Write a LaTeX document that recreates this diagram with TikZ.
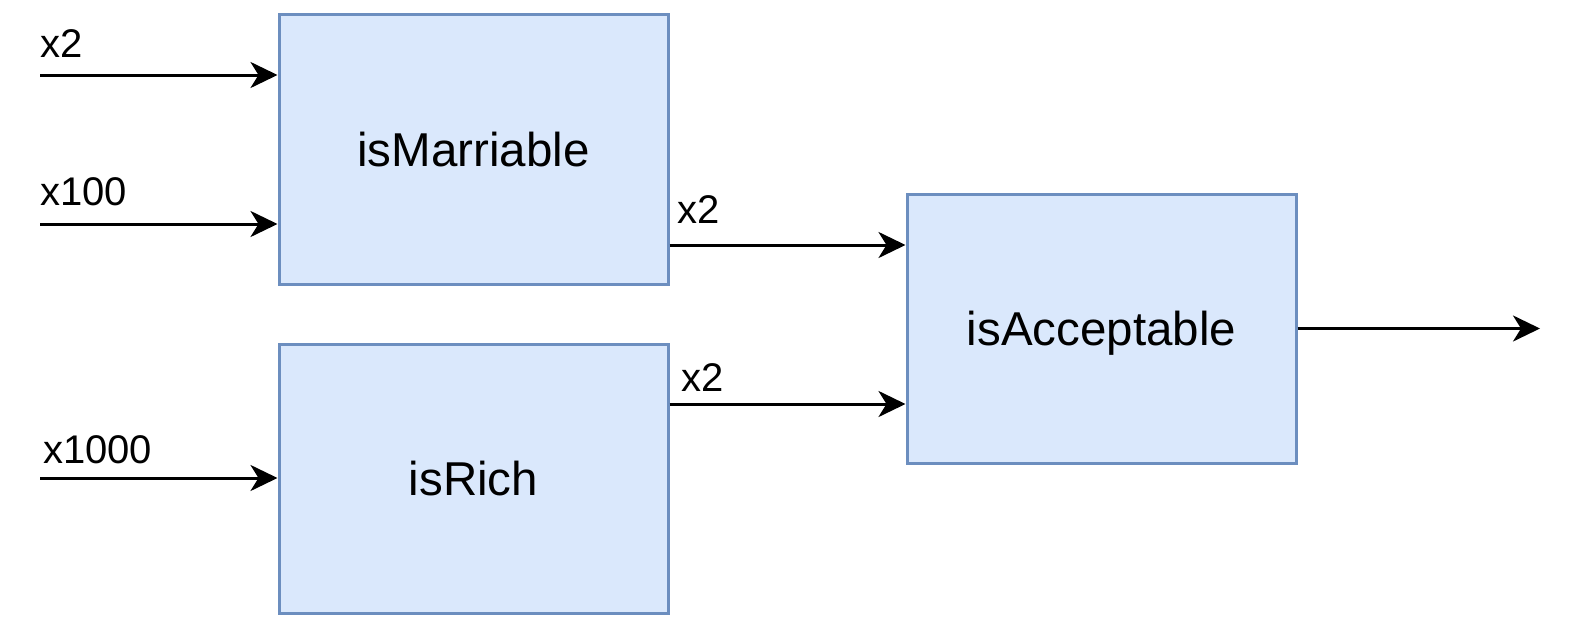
\documentclass[tikz,border=0pt]{standalone}
\usepackage{fontspec}
\setmainfont{Liberation Sans}
\usepackage{xcolor}
\usetikzlibrary{arrows.meta,positioning}

\definecolor{boxfill}{HTML}{DAE8FC}
\definecolor{boxline}{HTML}{6C8EBF}

\begin{document}
\begin{tikzpicture}[
  x=1pt, y=-1pt,
  >={Stealth[length=27pt, width=26pt, inset=8pt]},
  blk/.style={draw=boxline, fill=boxfill, line width=3pt, align=center,
              inner sep=0pt, minimum width=389pt, minimum height=269pt,
              text depth=0pt, font=\fontsize{47.5}{57}\selectfont},
  lab/.style={anchor=base west, inner sep=0pt, font=\fontsize{40}{48}\selectfont},
  arr/.style={->, line width=3pt}
]
\useasboundingbox (0,0) rectangle (1573,634);

% ---- blocks ----
\node[blk] (mar) at (473.5,149.5) {isMarriable};
\node[blk] (rich) at (473.5,478.5) {isRich};
\node[blk] (acc) at (1101.5,328.5) {isAcceptable};

% ---- inputs ----
\coordinate (in1) at (40,75);
\coordinate (in2) at (40,224);
\coordinate (in3) at (40,478);
\coordinate (out) at (1540,328.5);

\draw[arr] (in1) -- (in1 -| mar.west);
\draw[arr] (in2) -- (in2 -| mar.west);
\draw[arr] (in3) -- (in3 -| rich.west);

\node[lab] (l1) at (40,58) {x2};
\node[lab] (l2) at (40,205) {x100};
\node[lab] (l3) at (43,463) {x1000};

% ---- into isAcceptable ----
\draw[arr] ([yshift=-95.5pt]mar.east) -- ([yshift=-95.5pt]mar.east -| acc.west);
\draw[arr] ([yshift=74.5pt]rich.east) -- ([yshift=74.5pt]rich.east -| acc.west);

\node[lab] (l4) at (677,223) {x2};
\node[lab] (l5) at (681,391) {x2};

% ---- output ----
\draw[arr] (acc.east) -- (out);
\end{tikzpicture}
\end{document}
